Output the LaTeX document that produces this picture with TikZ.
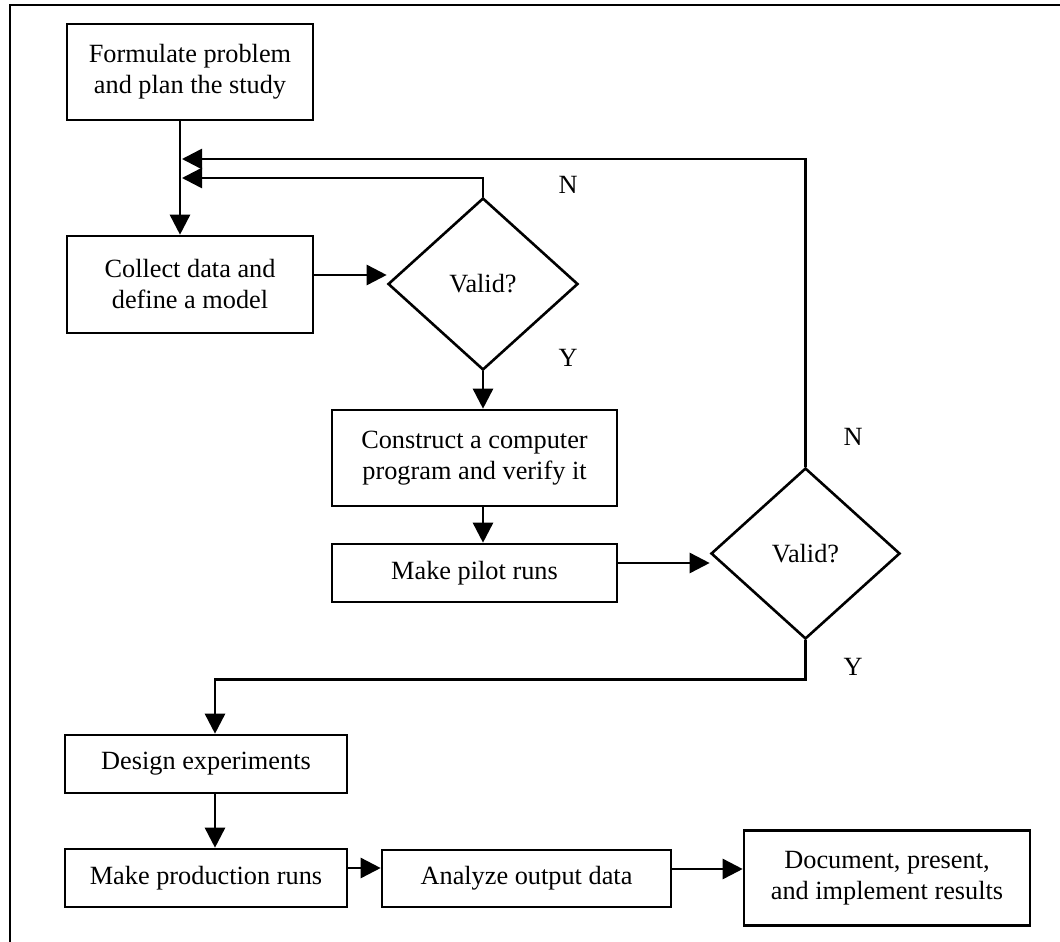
\documentclass[tikz,border=0pt]{standalone}
\usepackage{fontspec}
\setmainfont{Liberation Serif}
\usetikzlibrary{arrows.meta,shapes.geometric}
\begin{document}
\begin{tikzpicture}[x=1pt,y=-1pt,
  every node/.style={font=\fontsize{26.3}{31}\selectfont},
  box/.style={draw,line width=2.6pt,inner sep=0pt,align=center},
  decision/.style={draw,diamond,line width=2.6pt,inner sep=0pt,aspect=1.1},
  lbl/.style={inner sep=0pt},
  arr/.style={line width=2.6pt,-{Triangle[length=20pt,width=20pt]}}]
\useasboundingbox (0,0) rectangle (1060,942);
% frame (left and top edges)
\draw[line width=2.4pt] (10,942) -- (10,5) -- (1060,5);

\node[box,minimum width=246pt,minimum height=96pt] (f) at (190,72) {Formulate problem\\and plan the study};
\node[box,minimum width=246pt,minimum height=97pt] (c) at (190,284.5) {Collect data and\\define a model};
\node[decision,minimum width=190pt,minimum height=172pt] (d1) at (483,284) {Valid?};
\node[box,minimum width=285pt,minimum height=96pt] (k) at (474.5,458) {Construct a computer\\program and verify it};
\node[box,minimum width=285pt,minimum height=58pt] (p) at (474.5,573) {Make pilot runs};
\node[decision,minimum width=189pt,minimum height=171pt] (d2) at (805.5,553.5) {Valid?};
\node[box,minimum width=282pt,minimum height=58pt] (e) at (206,764) {Design experiments};
\node[box,minimum width=282pt,minimum height=58pt] (r) at (206,878) {Make production runs};
\node[box,minimum width=289pt,minimum height=57pt] (a) at (526.5,878.5) {Analyze output data};
\node[box,minimum width=286pt,minimum height=95pt] (o) at (887,878) {Document, present,\\and implement results};

\node[lbl] (n1) at (568,185) {N};
\node[lbl] (y1) at (568,358) {Y};
\node[lbl] (n2) at (853,437) {N};
\node[lbl] (y2) at (853,667) {Y};

\coordinate (spine) at (180,0);
\coordinate (spine2) at (215,0);
\coordinate (j1) at (182,178);
\coordinate (j2) at (182,159);

\draw[arr] (f.south -| spine) -- (c.north -| spine);
\draw[arr] (d1.north) |- (j1);
\draw[arr] (d2.north) |- (j2);
\draw[arr] ([yshift=9.5pt]c.east) -- ([yshift=9.5pt]c.east -| d1.west);
\draw[arr] (d1.south) -- (d1.south |- k.north);
\draw[arr] (k.south -| d1.south) -- (p.north -| d1.south);
\draw[arr] ([yshift=10pt]p.east) -- ([yshift=10pt]p.east -| d2.west);
\draw[arr] (d2.south) -- ++(0,39) -| (e.north -| spine2);
\draw[arr] (e.south -| spine2) -- (r.north -| spine2);
\draw[arr] ([yshift=10pt]r.east) -- ([yshift=10pt]r.east -| a.west);
\draw[arr] ([yshift=9.5pt]a.east) -- ([yshift=9.5pt]a.east -| o.west);
\end{tikzpicture}
\end{document}
